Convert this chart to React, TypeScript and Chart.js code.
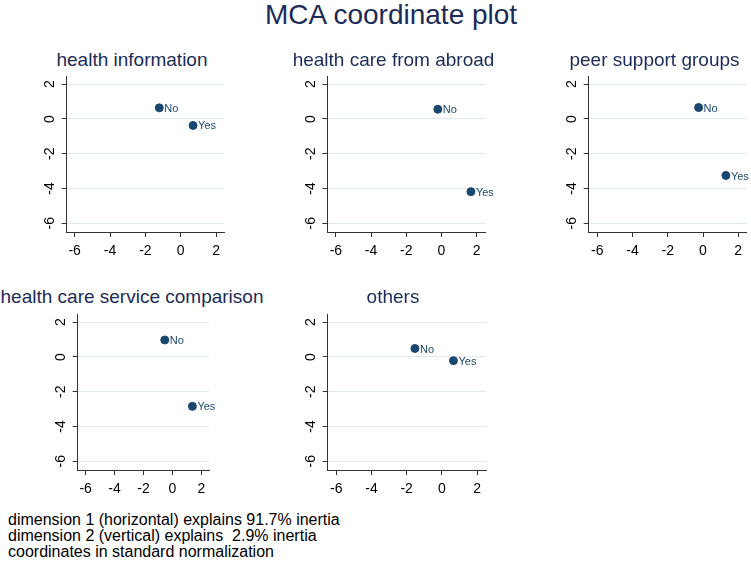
import React, { useEffect, useRef } from "react";
import { Chart, registerables } from "chart.js";

Chart.register(...registerables);

// ---------------- data ----------------
const mainTitle = "MCA coordinate plot";
const panelTitles = [
  "health information",
  "health care from abroad",
  "peer support groups",
  "health care service comparison",
  "others",
];
const categoryLabels = ["No", "Yes"];
// dimension 1 (horizontal) coordinates: [No, Yes]
const dim1Values = [
  [-1.21, 0.7],
  [-0.21, 1.67],
  [-0.25, 1.3],
  [-0.53, 1.38],
  [-1.53, 0.66],
];
// dimension 2 (vertical) coordinates: [No, Yes]
const dim2Values = [
  [0.64, -0.37],
  [0.56, -4.18],
  [0.66, -3.25],
  [0.98, -2.84],
  [0.49, -0.21],
];
const xTickValues = [-6, -4, -2, 0, 2];
const yTickValues = [-6, -4, -2, 0, 2];
const noteLines = [
  "dimension 1 (horizontal) explains 91.7% inertia",
  "dimension 2 (vertical) explains  2.9% inertia",
  "coordinates in standard normalization",
];

// ---------------- styling / layout ----------------
const FONT = '"Liberation Sans", Arial, Helvetica, sans-serif';
const NAVY = "#1a476f";
const TITLE_COLOR = "#1c2b57";
const AXIS_COLOR = "#333333";
const GRID_COLOR = "#e0eaed";

const GEO = [
  { L: 66.7, R: 224, T: 73.3, B: 232, cx: 132, ty: 49, xmin: -6.45, xmax: 2.45 },
  { L: 327.4, R: 485.7, T: 73.3, B: 232, cx: 393.5, ty: 49, xmin: -6.48, xmax: 2.51 },
  { L: 588.7, R: 746.7, T: 73.3, B: 232, cx: 654.5, ty: 49, xmin: -6.49, xmax: 2.48 },
  { L: 77.7, R: 209.3, T: 311.5, B: 470, cx: 132, ty: 285.7, xmin: -6.55, xmax: 2.55 },
  { L: 327.7, R: 486, T: 311.5, B: 470, cx: 393, ty: 285.7, xmin: -6.49, xmax: 2.51 },
];
const Y_MIN = -6.5;
const Y_MAX = 2.45;

Chart.defaults.font.family = FONT;

const pointLabelPlugin = {
  id: "mcaPointLabels",
  afterDatasetsDraw(chart: any) {
    const ctx = chart.ctx;
    chart.data.datasets.forEach((ds: any, di: number) => {
      const meta = chart.getDatasetMeta(di);
      meta.data.forEach((pt: any, i: number) => {
        const lbl = ds.data[i] && ds.data[i].label;
        if (!lbl) return;
        ctx.save();
        ctx.font = `11px ${FONT}`;
        ctx.fillStyle = NAVY;
        ctx.textAlign = "left";
        ctx.textBaseline = "middle";
        ctx.fillText(lbl, pt.x + 5, pt.y + 1);
        ctx.restore();
      });
    });
  },
};

function Panel({ idx }: { idx: number }) {
  const ref = useRef<HTMLCanvasElement>(null);
  const geo = GEO[idx];
  const yW = 40;
  const padR = 30;
  const xH = 34;
  const padT = 10;
  const cl = Math.floor(geo.L - yW);
  const ct = Math.floor(geo.T - padT);
  const padLeft = geo.L - yW - cl;
  const padTop = geo.T - ct;
  const W = Math.ceil(geo.R + padR) - cl;
  const padRight = cl + W - geo.R;
  const H = Math.ceil(geo.B + xH) - ct;
  const padBottom = ct + H - geo.B - xH;

  useEffect(() => {
    if (!ref.current) return;
    const points = dim1Values[idx].map((x, i) => ({
      x,
      y: dim2Values[idx][i],
      label: categoryLabels[i],
    }));
    const chart = new Chart(ref.current, {
      type: "scatter",
      data: {
        datasets: [
          {
            data: points,
            backgroundColor: NAVY,
            borderColor: NAVY,
            borderWidth: 1,
            pointRadius: 4,
            pointHoverRadius: 4,
          },
        ],
      },
      options: {
        animation: false,
        responsive: false,
        events: [],
        layout: {
          padding: { left: padLeft, top: padTop, right: padRight, bottom: padBottom },
        },
        plugins: {
          legend: { display: false },
          tooltip: { enabled: false },
          title: { display: false },
        },
        scales: {
          x: {
            type: "linear",
            position: "bottom",
            min: geo.xmin,
            max: geo.xmax,
            afterBuildTicks: (s: any) => {
              s.ticks = xTickValues.map((v) => ({ value: v }));
            },
            afterFit: (s: any) => {
              s.height = xH;
            },
            grid: {
              drawOnChartArea: false,
              drawTicks: true,
              tickLength: 5,
              tickColor: AXIS_COLOR,
              tickWidth: 1,
            },
            border: { display: true, color: AXIS_COLOR, width: 1 },
            ticks: {
              color: "#000",
              font: { size: 14, family: FONT },
              padding: 6,
              minRotation: 0,
              maxRotation: 0,
              autoSkip: false,
              callback: (v: any) => String(v),
            },
          },
          y: {
            type: "linear",
            position: "left",
            min: Y_MIN,
            max: Y_MAX,
            afterBuildTicks: (s: any) => {
              s.ticks = yTickValues.map((v) => ({ value: v }));
            },
            afterFit: (s: any) => {
              s.width = yW;
            },
            grid: {
              color: GRID_COLOR,
              lineWidth: 1,
              drawTicks: true,
              tickLength: 5,
              tickColor: AXIS_COLOR,
              tickWidth: 1,
            },
            border: { display: true, color: AXIS_COLOR, width: 1 },
            ticks: {
              color: "#000",
              font: { size: 14, family: FONT },
              padding: 5,
              minRotation: 90,
              maxRotation: 90,
              crossAlign: "center",
              autoSkip: false,
              callback: (v: any) => String(v),
            },
          },
        },
      } as any,
      plugins: [pointLabelPlugin],
    });
    return () => chart.destroy();
  }, [idx]);

  return (
    <>
      <div
        style={{
          position: "absolute",
          left: geo.cx - 200,
          width: 400,
          top: geo.ty,
          height: 22,
          lineHeight: "22px",
          fontSize: 19,
          textAlign: "center",
          color: TITLE_COLOR,
          whiteSpace: "nowrap",
        }}
      >
        {panelTitles[idx]}
      </div>
      <canvas
        ref={ref}
        width={W}
        height={H}
        style={{ position: "absolute", left: cl, top: ct, width: W, height: H, display: "block" }}
      />
    </>
  );
}

export default function App() {
  return (
    <div
      style={{
        position: "absolute",
        left: 0,
        top: 0,
        width: 751,
        height: 564,
        overflow: "hidden",
        background: "#ffffff",
        fontFamily: FONT,
      }}
    >
      <div
        style={{
          position: "absolute",
          left: 265,
          top: -1,
          fontSize: 28,
          lineHeight: "32px",
          color: TITLE_COLOR,
          whiteSpace: "nowrap",
        }}
      >
        {mainTitle}
      </div>
      {panelTitles.map((_, i) => (
        <Panel key={i} idx={i} />
      ))}
      <div
        style={{
          position: "absolute",
          left: 8,
          top: 512,
          fontSize: 16,
          lineHeight: "16px",
          color: "#000",
          whiteSpace: "pre",
        }}
      >
        {noteLines.map((l, i) => (
          <div key={i}>{l}</div>
        ))}
      </div>
    </div>
  );
}
